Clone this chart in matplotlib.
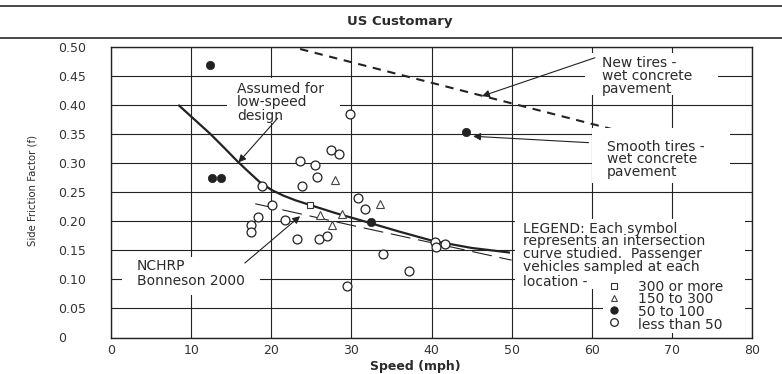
import matplotlib
matplotlib.use('Agg')
import matplotlib.pyplot as plt
from matplotlib.lines import Line2D
from matplotlib.patches import Rectangle

# ---------------- data ----------------
# intersection curves, by number of passenger vehicles sampled
open_speed = [29.8, 27.5, 28.4, 23.6, 25.5, 25.7, 23.9, 18.8, 30.8, 31.7, 20.1, 18.3,
              21.7, 17.5, 17.5, 23.2, 26.0, 26.9, 34.0, 37.2, 29.5, 40.4, 40.5, 41.7]
open_f = [0.384, 0.323, 0.315, 0.303, 0.297, 0.276, 0.260, 0.260, 0.239, 0.221, 0.228, 0.208,
          0.202, 0.194, 0.181, 0.170, 0.170, 0.175, 0.143, 0.114, 0.088, 0.164, 0.156, 0.161]
tri_speed = [28.0, 26.1, 27.6, 28.8, 33.6]
tri_f = [0.270, 0.210, 0.194, 0.213, 0.230]
sq_speed = [24.8]
sq_f = [0.227]
fill_speed = [12.3, 12.6, 13.7, 32.4, 44.3]
fill_f = [0.468, 0.275, 0.275, 0.199, 0.354]

# assumed low-speed design curve
curve_speed = [8.4, 10.0, 12.4, 14.0, 15.7, 17.0, 18.5, 20.0, 21.5, 23.0, 24.8, 28.0, 32.3,
               36.0, 40.2, 45.0, 49.8]
curve_f = [0.400, 0.380, 0.350, 0.328, 0.304, 0.287, 0.268, 0.254, 0.244, 0.236, 0.228, 0.214,
           0.197, 0.182, 0.166, 0.154, 0.146]
# NCHRP Bonneson 2000
bonneson_speed = [18.0, 30.0, 40.0, 50.0]
bonneson_f = [0.230, 0.193, 0.163, 0.133]
# new tires - wet concrete pavement
newtire_speed = [23.6, 62.9]
newtire_f = [0.496, 0.357]

x_ticks = [0, 10, 20, 30, 40, 50, 60, 70, 80]
y_ticks = [0, 0.05, 0.10, 0.15, 0.20, 0.25, 0.30, 0.35, 0.40, 0.45, 0.50]
y_tick_labels = ['0', '0.05', '0.10', '0.15', '0.20', '0.25', '0.30', '0.35', '0.40', '0.45', '0.50']
legend_labels = ['300 or more', '150 to 300', '50 to 100', 'less than 50']

# ---------------- figure ----------------
INK = '#222222'
TXT = '#2b2b2b'
AX_L, AX_B, AX_W, AX_H = 111, 337.5, 641, 290.8   # axes box in pixels

fig = plt.figure(figsize=(7.82, 3.74), dpi=100)
fig.patch.set_facecolor('white')

# header band
fig.add_artist(Line2D([0, 1], [1 - 6 / 374] * 2, transform=fig.transFigure, color='#3a3a3a', lw=1.3))
fig.add_artist(Line2D([0, 1], [1 - 37.5 / 374] * 2, transform=fig.transFigure, color='#3a3a3a', lw=1.3))
fig.text(400 / 782, 1 - 21 / 374, 'US Customary', ha='center', va='center',
         fontsize=9.5, fontweight='bold', color=TXT)

ax = fig.add_axes([AX_L / 782, (374 - AX_B) / 374, AX_W / 782, AX_H / 374])
ax.set_xlim(0, 80)
ax.set_ylim(0, 0.5)
ax.set_xticks(x_ticks)
ax.set_yticks(y_ticks)
ax.set_yticklabels(y_tick_labels)
ax.grid(True, color=INK, lw=0.8)
ax.set_axisbelow(True)
for s in ax.spines.values():
    s.set_color(INK)
    s.set_linewidth(1.0)
    s.set_zorder(5)
ax.tick_params(length=0, labelsize=9, colors='#333333')
ax.tick_params(axis='x', pad=5)
ax.tick_params(axis='y', pad=38)
for lab in ax.get_yticklabels():
    lab.set_horizontalalignment('left')

ax.set_xlabel('Speed (mph)', fontsize=9, fontweight='bold', color=TXT)
ax.xaxis.label.set_va('center')
ax.xaxis.set_label_coords(0.474, -0.101)
ax.set_ylabel('Side Friction Factor (f)', fontsize=7.3, color=TXT)
ax.yaxis.label.set_va('center')
ax.yaxis.set_label_coords(-0.1217, 0.504)


def white_box(x0, x1, y0, y1):
    """white panel given in figure pixels (left, right, top, bottom)"""
    ax.add_patch(Rectangle(((x0 - AX_L) / AX_W, (AX_B - y1) / AX_H), (x1 - x0) / AX_W,
                           (y1 - y0) / AX_H, transform=ax.transAxes, fc='white', ec='none',
                           zorder=3.2))


def fy(py):
    """figure pixel row -> data value of f"""
    return (AX_B - py) / AX_H * 0.5


# lines
ax.plot(curve_speed, curve_f, color=INK, lw=1.6, solid_capstyle='butt', solid_joinstyle='round',
        zorder=2)
ax.plot(bonneson_speed, bonneson_f, color=INK, lw=0.8, dashes=(18, 7), zorder=2)
ax.plot(newtire_speed, newtire_f, color=INK, lw=1.5, dashes=(4, 3.2), zorder=2)

# markers
ax.plot(open_speed, open_f, 'o', ms=6.4, mfc='white', mec=INK, mew=0.9, ls='none', zorder=3)
ax.plot(tri_speed, tri_f, '^', ms=5.6, mfc='white', mec='#444444', mew=0.8, ls='none', zorder=3)
ax.plot(sq_speed, sq_f, 's', ms=5.0, mfc='white', mec='#333333', mew=0.8, ls='none', zorder=3)
ax.plot(fill_speed, fill_f, 'o', ms=6.0, mfc=INK, mec=INK, mew=0.5, ls='none', zorder=3)

# annotation panels
white_box(227, 340, 78, 123)     # assumed for low-speed design
white_box(122, 260, 257, 295)    # NCHRP
white_box(585, 718, 53, 95)      # new tires
white_box(592, 730, 128, 183)    # smooth tires
white_box(515, 745, 219, 289)    # legend paragraph
white_box(603, 745, 280, 333)    # legend symbols

fs = 10
ax.text(15.73, 0.4042, 'Assumed for\nlow-speed\ndesign', ha='left', va='center', fontsize=fs,
        color=TXT, linespacing=0.95, zorder=3.5)
ax.text(3.25, 0.1099, 'NCHRP\nBonneson 2000', ha='left', va='center', fontsize=fs,
        color=TXT, linespacing=1.05, zorder=3.5)
ax.text(61.3, 0.4498, 'New tires -\nwet concrete\npavement', ha='left', va='center', fontsize=fs,
        color=TXT, linespacing=0.88, zorder=3.5)
ax.text(61.9, 0.3067, 'Smooth tires -\nwet concrete\npavement', ha='left', va='center', fontsize=fs,
        color=TXT, linespacing=0.87, zorder=3.5)
ax.text(51.4, fy(274.3), 'LEGEND: Each symbol\nrepresents an intersection\ncurve studied.  Passenger\n'
        'vehicles sampled at each', ha='left', va='bottom', fontsize=fs,
        color=TXT, linespacing=0.9, zorder=3.5)
ax.text(51.4, fy(275.3), 'location -', ha='left', va='top', fontsize=fs, color=TXT, zorder=3.5)

# legend: symbols from the library's legend, labels as one text column
handles = [
    Line2D([], [], marker='s', ls='none', ms=4.5, mfc='white', mec='#333333', mew=0.8),
    Line2D([], [], marker='^', ls='none', ms=5.0, mfc='white', mec='#444444', mew=0.8),
    Line2D([], [], marker='o', ls='none', ms=5.0, mfc=INK, mec=INK),
    Line2D([], [], marker='o', ls='none', ms=5.5, mfc='white', mec=INK, mew=0.9),
]
leg = ax.legend(handles, [''] * len(handles), loc='upper left',
                bbox_to_anchor=((603 - AX_L) / AX_W, (AX_B - 275.5) / AX_H),
                fontsize=fs, frameon=False, borderaxespad=0, borderpad=0.3,
                handlelength=1.0, handletextpad=0.2, labelspacing=-0.15)
leg.set_zorder(3.6)
ax.text(65.8, 0.0545, '\n'.join(legend_labels), ha='left', va='center', fontsize=fs,
        color=TXT, linespacing=0.89, zorder=3.6)

arrow = dict(arrowstyle='-|>', color=INK, lw=0.8, mutation_scale=11, shrinkA=0, shrinkB=0)
ax.annotate('', xy=(15.9, 0.301), xytext=(20.8, 0.377), arrowprops=arrow, zorder=4)
ax.annotate('', xy=(23.6, 0.2086), xytext=(16.7, 0.128), arrowprops=arrow, zorder=4)
ax.annotate('', xy=(46.3, 0.415), xytext=(60.4, 0.481), arrowprops=arrow, zorder=4)
ax.annotate('', xy=(45.2, 0.346), xytext=(59.6, 0.335), arrowprops=arrow, zorder=4)

fig.savefig('out.png', dpi=100, facecolor='white')
